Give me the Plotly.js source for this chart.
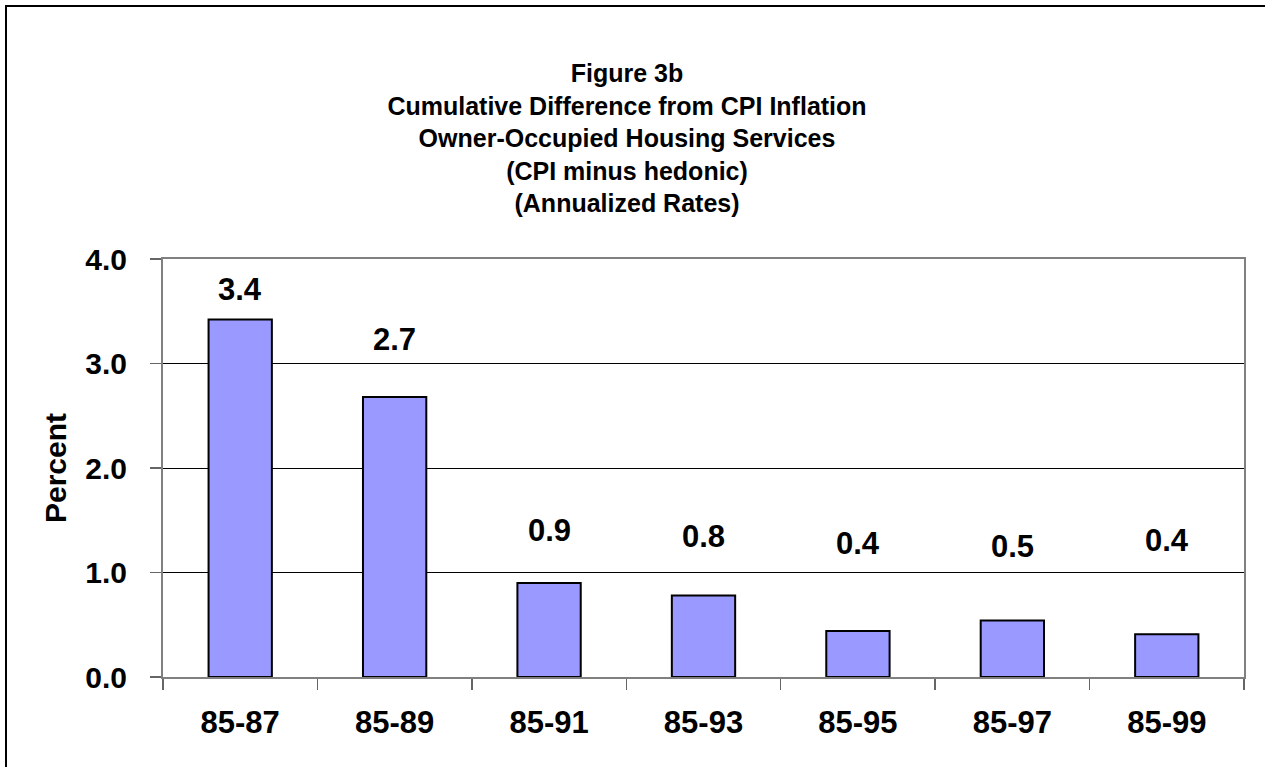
<!DOCTYPE html>
<html>
<head>
<meta charset="utf-8">
<script src="https://cdn.plot.ly/plotly-3.0.1.min.js"></script>
<style>
html,body{margin:0;padding:0;overflow:hidden;background:#fff;}
#chart{width:1265px;height:767px;position:absolute;left:0;top:0;}
#frame{position:absolute;left:5px;top:5px;width:1300px;height:800px;border:2px solid #000;pointer-events:none;z-index:10;}
</style>
</head>
<body>
<div id="chart"></div>
<div id="frame"></div>
<script>
// Data
const categories = ["85-87","85-89","85-91","85-93","85-95","85-97","85-99"];
const values = [3.42, 2.68, 0.90, 0.78, 0.44, 0.54, 0.41];
const titleLines = [
  "Figure 3b",
  "Cumulative Difference from CPI Inflation",
  "Owner-Occupied Housing Services",
  "(CPI minus hedonic)",
  "(Annualized Rates)"
];
const yTickVals = [0, 1, 2, 3, 4];

// Layout-only: vertical placement of data labels (as placed in the original)
const labelY = [3.71, 3.23, 1.40, 1.34, 1.28, 1.25, 1.31];

const FONT = "Liberation Sans, Arial, sans-serif";

const trace = {
  type: "bar",
  x: categories,
  y: values,
  marker: {color: "#9999FF", line: {color: "#000000", width: 2}},
  hoverinfo: "x+y"
};

const annotations = categories.map((c, i) => ({
  x: c, y: labelY[i], xref: "x", yref: "y",
  text: "<b>" + values[i].toFixed(1) + "</b>",
  showarrow: false,
  font: {family: FONT, size: 31, color: "#000"},
  xanchor: "center", yanchor: "middle"
}));

const H = 767, T = 259, B = 677;

const layout = {
  width: 1265, height: 767,
  margin: {l: 163, r: 21, t: T, b: H - B, pad: 0},
  paper_bgcolor: "#fff", plot_bgcolor: "#fff",
  showlegend: false,
  bargap: 0.59,
  font: {family: FONT, color: "#000"},
  title: {
    text: titleLines.map(t => "<b>" + t + "</b>").join("<br>"),
    font: {family: FONT, size: 25, color: "#000"},
    xref: "container", yref: "container",
    x: 627 / 1265, xanchor: "center",
    y: 1 - 82 / H, yanchor: "middle"
  },
  xaxis: {
    type: "category",
    tickfont: {family: FONT, size: 31, color: "#000", weight: "bold"},
    ticks: "outside", ticklen: 11, tickwidth: 1.5, tickcolor: "#666",
    tickson: "boundaries",
    ticklabelstandoff: 17,
    showline: true, linecolor: "#808080", linewidth: 2, mirror: true,
    showgrid: false, zeroline: false,
    fixedrange: true
  },
  yaxis: {
    range: [0, 4],
    tickvals: yTickVals,
    tickformat: ".1f",
    tickfont: {family: FONT, size: 30, color: "#000", weight: "bold"},
    ticks: "outside", ticklen: 11, tickwidth: 1.5, tickcolor: "#666",
    ticklabelstandoff: 17,
    showline: true, linecolor: "#808080", linewidth: 2, mirror: true,
    showgrid: true, gridcolor: "#000", gridwidth: 1,
    zeroline: false,
    title: {text: "<b>Percent</b>", font: {family: FONT, size: 30, color: "#000"}, standoff: 10},
    fixedrange: true
  },
  annotations: annotations
};

Plotly.newPlot("chart", [trace], layout, {displayModeBar: false, staticPlot: true});
</script>
</body>
</html>
